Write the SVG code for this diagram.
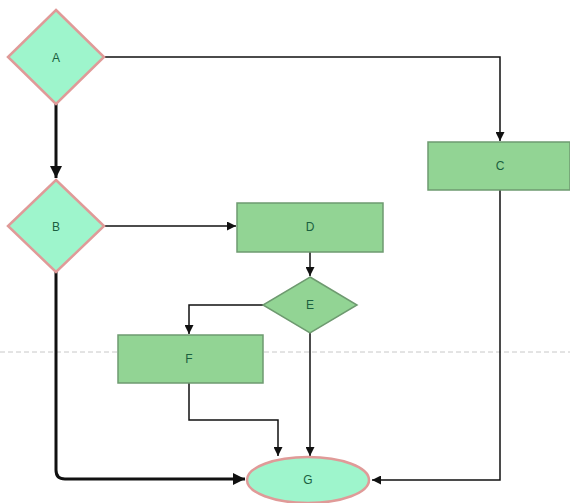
<svg xmlns="http://www.w3.org/2000/svg" width="570" height="503" viewBox="0 0 570 503">
<defs>
<style>
.mint{fill:#9ef5cc;stroke:#e09a98;stroke-width:2.5}
.grn{fill:#92d494;stroke:#6e9a70;stroke-width:1.5}
.lbl{font-family:"Liberation Sans",Arial,sans-serif;font-size:12px;fill:#1a6040;text-anchor:middle;dominant-baseline:central}
.c{fill:none;stroke:#111;stroke-width:1.5}
.ct{fill:none;stroke:#111;stroke-width:3}
</style>
<marker id="ah" viewBox="0 0 10 10" refX="10" refY="5" markerWidth="9" markerHeight="9" markerUnits="userSpaceOnUse" orient="auto"><path d="M0,0 L10,5 L0,10 z" fill="#111"/></marker>
<marker id="aht" viewBox="0 0 10 10" refX="10" refY="5" markerWidth="12" markerHeight="12" markerUnits="userSpaceOnUse" orient="auto"><path d="M0,0 L10,5 L0,10 z" fill="#111"/></marker>
</defs>
<rect width="570" height="503" fill="#fff"/>
<line x1="0" y1="352" x2="570" y2="352" stroke="#c8c8c8" stroke-width="1" stroke-dasharray="5,3"/>
<g id="connectors">
<path class="ct" d="M56,104 L56,178" marker-end="url(#aht)"/>
<path class="c" d="M104,57 L500,57 L500,141" marker-end="url(#ah)"/>
<path class="c" d="M104,226 L236,226" marker-end="url(#ah)"/>
<path class="c" d="M310,252 L310,276" marker-end="url(#ah)"/>
<path class="c" d="M263,305 L189,305 L189,334" marker-end="url(#ah)"/>
<path class="c" d="M189,383 L189,420 L278,420 L278,456" marker-end="url(#ah)"/>
<path class="c" d="M310,333 L310,456" marker-end="url(#ah)"/>
<path class="ct" d="M56,272 L56,470 Q56,479 65,479 L245,479" marker-end="url(#aht)"/>
<path class="c" d="M500,190 L500,480 L372,480" marker-end="url(#ah)"/>
</g>
<g id="A"><polygon class="mint" points="56,10 104,57 56,104 8,57"/><text class="lbl" x="56" y="58">A</text></g>
<g id="B"><polygon class="mint" points="56,180 104,226 56,272 8,226"/><text class="lbl" x="56" y="227">B</text></g>
<g id="C"><rect class="grn" x="428" y="142" width="142" height="48"/><text class="lbl" x="500" y="166">C</text></g>
<g id="D"><rect class="grn" x="237" y="203" width="146" height="49"/><text class="lbl" x="310" y="227">D</text></g>
<g id="E"><polygon class="grn" points="310,277 357,305 310,333 263,305"/><text class="lbl" x="310" y="305">E</text></g>
<g id="F"><rect class="grn" x="118" y="335" width="145" height="48"/><text class="lbl" x="189" y="359">F</text></g>
<g id="G"><ellipse class="mint" cx="308" cy="480" rx="61" ry="23"/><text class="lbl" x="308" y="480">G</text></g>
</svg>
